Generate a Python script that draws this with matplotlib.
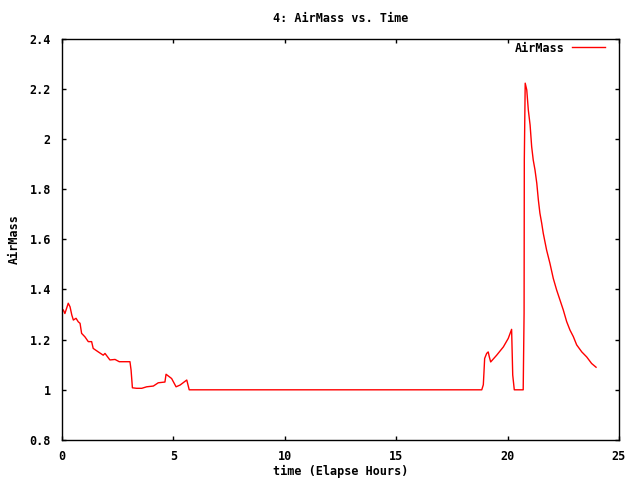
import matplotlib
matplotlib.use("Agg")
import matplotlib.pyplot as plt

# elapsed hours and airmass
hours = [0.06, 0.13, 0.28, 0.36, 0.44, 0.51, 0.63, 0.73, 0.81, 0.88,
         1.03, 1.18, 1.33, 1.40, 1.63, 1.85, 1.93, 2.15, 2.38, 2.57,
         3.05, 3.10, 3.16, 3.35, 3.58, 3.80, 4.10, 4.32, 4.62, 4.67,
         4.92, 5.12, 5.30, 5.60, 5.71, 18.84, 18.91, 18.94, 18.97, 19.06,
         19.13, 19.18, 19.24, 19.51, 19.81, 20.03, 20.18, 20.23, 20.30, 20.70,
         20.74, 20.75, 20.79, 20.86, 20.93, 21.01, 21.08, 21.15, 21.23, 21.31,
         21.38, 21.45, 21.53, 21.60, 21.75, 21.90, 22.05, 22.20, 22.35, 22.50,
         22.65, 22.80, 22.95, 23.10, 23.33, 23.55, 23.77, 23.97]
airmass = [1.318, 1.304, 1.345, 1.331, 1.298, 1.278, 1.285, 1.271, 1.265, 1.225,
           1.211, 1.192, 1.192, 1.165, 1.151, 1.138, 1.145, 1.119, 1.121, 1.112,
           1.112, 1.079, 1.008, 1.006, 1.006, 1.012, 1.015, 1.028, 1.031, 1.062,
           1.045, 1.012, 1.019, 1.039, 1.000, 1.000, 1.020, 1.071, 1.125, 1.145,
           1.151, 1.131, 1.111, 1.138, 1.171, 1.205, 1.241, 1.059, 1.000, 1.000,
           1.305, 1.916, 2.222, 2.195, 2.115, 2.055, 1.969, 1.916, 1.876, 1.823,
           1.757, 1.704, 1.664, 1.624, 1.557, 1.504, 1.444, 1.398, 1.358, 1.318,
           1.272, 1.238, 1.212, 1.179, 1.151, 1.131, 1.105, 1.090]

xticks = [0, 5, 10, 15, 20, 25]
yticks = [0.8, 1.0, 1.2, 1.4, 1.6, 1.8, 2.0, 2.2, 2.4]
ytick_labels = ["0.8", "1", "1.2", "1.4", "1.6", "1.8", "2", "2.2", "2.4"]

plt.rcParams["font.family"] = "DejaVu Sans Mono"
plt.rcParams["font.weight"] = "bold"
plt.rcParams["font.size"] = 8.5

fig = plt.figure(figsize=(6.4, 4.8), dpi=100)
ax = fig.add_axes([62 / 640, 40 / 480, 557 / 640, 401.5 / 480])

ax.plot(hours, airmass, color="red", linewidth=1.0, label="AirMass")

ax.set_xlim(0, 25)
ax.set_ylim(0.8, 2.4)
ax.set_xticks(xticks)
ax.set_yticks(yticks)
ax.set_yticklabels(ytick_labels)
ax.tick_params(direction="in", length=3, width=1, top=True, right=True,
               pad=7, colors="black")
ax.tick_params(axis="y", pad=8)
for s in ax.spines.values():
    s.set_linewidth(1.0)

fig.text(0.532, 1 - 18 / 480, "4: AirMass vs. Time", ha="center", va="center",
         fontweight="bold")
ax.set_xlabel("time (Elapse Hours)", fontweight="bold", va="center")
ax.xaxis.set_label_coords(0.5, -31 / 401.5)
ax.set_ylabel("AirMass", fontweight="bold", va="center")
ax.yaxis.set_label_coords(-48 / 557, 0.5)

ax.legend(loc="upper right", frameon=False, markerfirst=False,
          handlelength=2.8, handletextpad=0.6, borderaxespad=0,
          bbox_to_anchor=(0.983, 1.004),
          prop={"weight": "bold", "size": 8.5})

fig.savefig("out.png", dpi=100)
